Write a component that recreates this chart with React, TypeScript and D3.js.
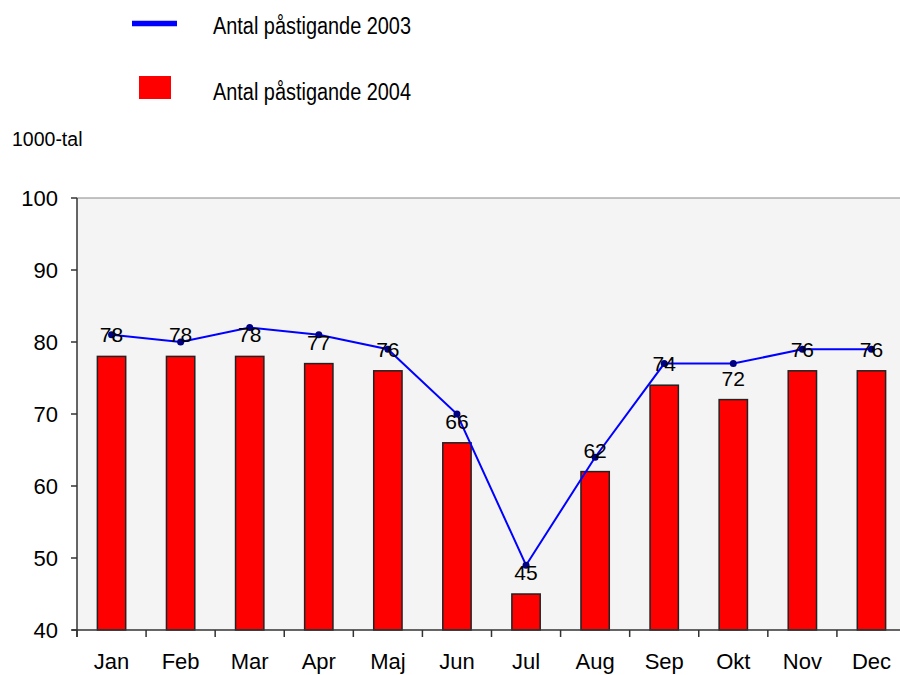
import React from "react";
import * as d3 from "d3";

const months = ["Jan", "Feb", "Mar", "Apr", "Maj", "Jun", "Jul", "Aug", "Sep", "Okt", "Nov", "Dec"];
const values2003 = [81, 80, 82, 81, 79, 70, 49, 64, 77, 77, 79, 79];
const values2004 = [78, 78, 78, 77, 76, 66, 45, 62, 74, 72, 76, 76];
const yTicks = [40, 50, 60, 70, 80, 90, 100];
const legendLabels = ["Antal påstigande 2003", "Antal påstigande 2004"];
const unitLabel = "1000-tal";

export default function App() {
  const W = 900, H = 675;
  const left = 77, right = 906, top = 198, bottom = 630;
  const x = d3.scaleBand<string>().domain(months).range([left, right]).paddingInner(0.59).paddingOuter(0.295);
  const band = d3.scaleBand<string>().domain(months).range([left, right]);
  const y = d3.scaleLinear().domain([40, 100]).range([bottom, top]);
  const cx = (i: number) => (band(months[i]) as number) + band.bandwidth() / 2;
  const line = d3.line<number>()
    .x((_, i) => cx(i))
    .y((d) => y(d));
  const font = "'Liberation Sans', Arial, sans-serif";
  return (
    <svg width={W} height={H} style={{ position: "absolute", left: 0, top: 0 }} fontFamily={font}>
      <rect x={0} y={0} width={W} height={H} fill="#ffffff" />
      {/* legend */}
      <line x1={132} x2={177} y1={23.5} y2={23.5} stroke="#0000ff" strokeWidth={5.5} />
      <text x={213} y={34} fontSize={23.5} textLength={198} lengthAdjust="spacingAndGlyphs" fill="#000">{legendLabels[0]}</text>
      <rect x={139} y={76} width={32} height={23} fill="#ff0000" />
      <text x={213} y={99.5} fontSize={23.5} textLength={198} lengthAdjust="spacingAndGlyphs" fill="#000">{legendLabels[1]}</text>
      <text x={12} y={146} fontSize={19.5} fill="#000">{unitLabel}</text>
      {/* plot background */}
      <rect x={left} y={top} width={right - left} height={bottom - top} fill="#f4f4f4" />
      <line x1={left} x2={right} y1={top} y2={top} stroke="#888" strokeWidth={1} />
      {/* bars */}
      {values2004.map((v, i) => (
        <rect key={i} x={x(months[i])} y={y(v)} width={x.bandwidth()} height={bottom - y(v)}
          fill="#ff0000" stroke="#222" strokeWidth={1.5} />
      ))}
      {/* line */}
      <path d={line(values2003) || ""} fill="none" stroke="#0000ff" strokeWidth={2} />
      {values2003.map((v, i) => (
        <circle key={i} cx={cx(i)} cy={y(v)} r={3.5} fill="#000080" />
      ))}
      {/* bar value labels */}
      {values2004.map((v, i) => (
        <text key={i} x={cx(i)} y={y(v) - 14} fontSize={21}
          textAnchor="middle" fill="#000">{v}</text>
      ))}
      {/* axes */}
      <line x1={left} x2={left} y1={top} y2={bottom + 7} stroke="#333" strokeWidth={1.5} />
      <line x1={left - 5} x2={right} y1={bottom} y2={bottom} stroke="#333" strokeWidth={1.5} />
      {yTicks.map((t) => (
        <g key={t}>
          <line x1={left - 6} x2={left} y1={y(t)} y2={y(t)} stroke="#333" strokeWidth={1.5} />
          <text x={58} y={y(t) + 8} fontSize={22} textAnchor="end" fill="#000">{t}</text>
        </g>
      ))}
      {months.map((m, i) => (
        <g key={m}>
          <line x1={band(m) as number} x2={band(m) as number} y1={bottom} y2={bottom + 7} stroke="#333" strokeWidth={1.5} />
          <text x={cx(i)} y={669} fontSize={22} textAnchor="middle" fill="#000">{m}</text>
        </g>
      ))}
    </svg>
  );
}
